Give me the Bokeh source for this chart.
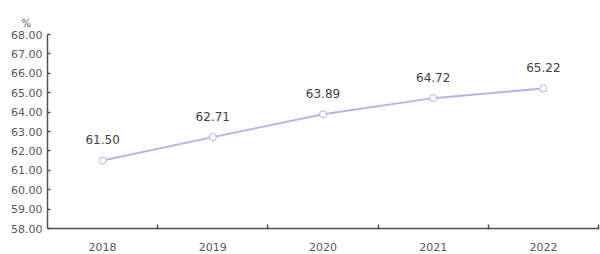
from bokeh.plotting import figure
from bokeh.models import (ColumnDataSource, Range1d, LinearAxis,
                          FixedTicker, PrintfTickFormatter)
from bokeh.core.properties import value
from bokeh.embed import file_html
from bokeh.resources import INLINE

years = ["2018", "2019", "2020", "2021", "2022"]
rates = [61.50, 62.71, 63.89, 64.72, 65.22]
y_ticks = [58, 59, 60, 61, 62, 63, 64, 65, 66, 67, 68]
unit_label = "%"

FONT = "DejaVu Sans"
AXIS_COLOR = "#505050"
TEXT_COLOR = "#595959"

n = len(years)
xpos = [i + 0.5 for i in range(n)]
src = ColumnDataSource(dict(x=xpos, y=rates, lbl=[f"{v:.2f}" for v in rates]))

p = figure(width=600, height=254, x_range=Range1d(0, n),
           y_range=Range1d(y_ticks[0], y_ticks[-1]),
           output_backend="svg", toolbar_location=None,
           x_axis_location=None, y_axis_location=None,
           min_border_left=47, min_border_right=2, min_border_top=34,
           min_border_bottom=26)
p.outline_line_color = None
p.xgrid.visible = False
p.ygrid.visible = False
p.background_fill_color = "white"

p.title.text = unit_label
p.title.align = "left"
p.title.offset = -26
p.title.text_font = FONT
p.title.text_font_size = "10px"
p.title.text_font_style = "normal"
p.title.text_color = TEXT_COLOR
p.title.standoff = 11

# y axis
ya = LinearAxis(ticker=FixedTicker(ticks=y_ticks))
ya.formatter = PrintfTickFormatter(format="%.2f")
ya.axis_line_color = AXIS_COLOR
ya.axis_line_width = 1.5
ya.major_tick_line_color = AXIS_COLOR
ya.major_tick_line_width = 1.5
ya.major_tick_in = 3
ya.major_tick_out = 0
ya.minor_tick_line_color = None
ya.major_label_standoff = 5
ya.major_label_text_font = FONT
ya.major_label_text_font_size = "11px"
ya.major_label_text_color = TEXT_COLOR
p.add_layout(ya, "left")

# x axis: labels at category centres, ticks at category boundaries
xa = LinearAxis(ticker=FixedTicker(ticks=xpos, minor_ticks=list(range(1, n + 1))),
                major_label_overrides={x: y for x, y in zip(xpos, years)})
xa.axis_line_color = AXIS_COLOR
xa.axis_line_width = 1.5
xa.major_tick_line_color = None
xa.major_tick_in = 0
xa.major_tick_out = 0
xa.minor_tick_line_color = AXIS_COLOR
xa.minor_tick_line_width = 1.5
xa.minor_tick_in = 4
xa.minor_tick_out = 1
xa.major_label_standoff = 13
xa.major_label_text_font = FONT
xa.major_label_text_font_size = "11px"
xa.major_label_text_color = TEXT_COLOR
p.add_layout(xa, "below")

p.line("x", "y", source=src, line_color="#b0b5ea", line_width=2)
p.scatter("x", "y", source=src, size=7, fill_color="white",
          line_color="#b4b4cc", line_width=1)
p.text("x", "y", text="lbl", source=src, text_align="center",
       text_baseline="middle", y_offset=-21, text_font=value(FONT),
       text_font_size="12px", text_color="#404040")

open("out.html", "w").write(file_html(p, INLINE))
